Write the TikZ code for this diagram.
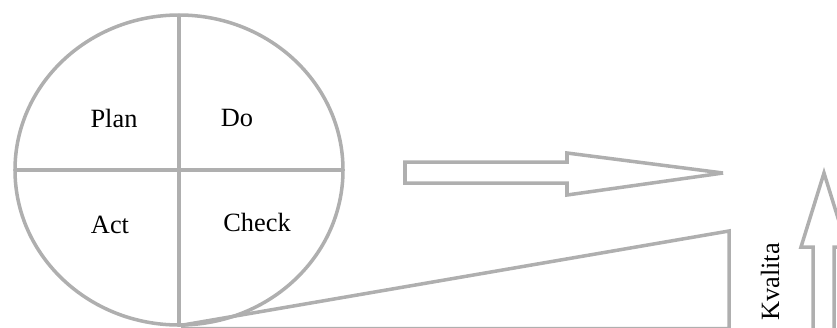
\documentclass[tikz,border=0pt]{standalone}
\usepackage{fontspec}
\setmainfont{Liberation Serif}
\usepackage{tikz}
\usetikzlibrary{shapes.geometric}
\definecolor{linegray}{HTML}{AFAFAF}
\tikzset{grayline/.style={draw=linegray, line width=2pt, line join=miter},
  quarter/.style={font=\fontsize{15}{17}\selectfont, inner sep=0pt}
}

\begin{document}
\begin{tikzpicture}
      \useasboundingbox (0,0) rectangle (16.74,-6.54);
      \clip (0,0) rectangle (16.74,-6.54);
      \node[grayline, ellipse, minimum width=6.56cm, minimum height=6.2cm, inner sep=0pt, outer sep=0pt] (pdca) at (3.58,-3.40) {};
      \draw[grayline] (pdca.north) -- (pdca.south);
      \draw[grayline] (pdca.west) -- (pdca.east);
      \node[quarter] (plan) at (2.28,-2.36) {Plan};
      \node[quarter] (do) at (4.74,-2.36) {Do};
      \node[quarter] (act) at (2.20,-4.50) {Act};
      \node[quarter] (check) at (5.14,-4.44) {Check};
      \draw[grayline, miter limit=4] (8.10,-3.24) -- (11.34,-3.24) -- (11.34,-3.06) -- (14.46,-3.46)
        -- (11.34,-3.90) -- (11.34,-3.66) -- (8.10,-3.66) -- cycle;
      \draw[grayline] (pdca.south) ++(0.08,0) coordinate (base)
        -- (14.58,-4.62) coordinate (top) -- (14.58,-6.57) -- (base |- 0,-6.57) -- cycle;
      \node[quarter, rotate=90] (kvalita) at (15.40,-5.64) {Kvalita};
      \draw[grayline] (16.26,-6.80) -- (16.26,-4.94) -- (16.02,-4.94) -- (16.48,-3.46)
        -- (16.94,-4.94) -- (16.68,-4.94) -- (16.68,-6.80);
    \end{tikzpicture}
\end{document}
